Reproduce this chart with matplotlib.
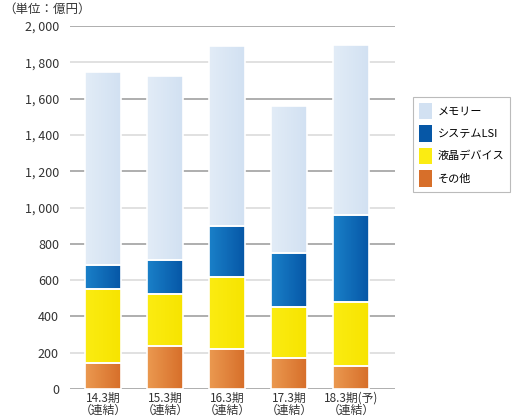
import matplotlib
matplotlib.use('Agg')
from matplotlib import pyplot as plt
from matplotlib.colors import LinearSegmentedColormap
from matplotlib.patches import Patch
import numpy as np

plt.rcParams['font.family'] = ['Noto Sans CJK JP', 'DejaVu Sans']

# data (億円)
periods = ["14.3期\n（連結）", "15.3期\n（連結）", "16.3期\n（連結）", "17.3期\n（連結）", "18.3期(予)\n（連結）"]
sonota = [143, 239, 222, 169, 125]
ekisho = [406, 284, 393, 281, 353]
lsi = [136, 188, 285, 301, 478]
memory = [1060, 1013, 990, 808, 939]

series_names = ["メモリー", "システムLSI", "液晶デバイス", "その他"]
yticks = [0, 200, 400, 600, 800, 1000, 1200, 1400, 1600, 1800, 2000]
ytick_labels = ["0", "200", "400", "600", "800", "1, 000", "1, 200", "1, 400", "1, 600", "1, 800", "2, 000"]

# gradient colours (left, right) for each series
grad = {
    "その他": ("#eb9950", "#d76f2a"),
    "液晶デバイス": ("#fbec12", "#f7e400"),
    "システムLSI": ("#1a80c9", "#0657a6"),
    "メモリー": ("#e2ecf7", "#d2e1f2"),
}

fig = plt.figure(figsize=(5.19, 4.2), dpi=100)
ax = fig.add_axes([70/519, 31/420, 325/519, 363/420])

x = np.arange(len(periods))
w = 0.58
bottom = np.zeros(len(periods))
stack = [("その他", sonota), ("液晶デバイス", ekisho), ("システムLSI", lsi), ("メモリー", memory)]
gx = np.linspace(0, 1, 64).reshape(1, -1)
for name, vals in stack:
    cmap = LinearSegmentedColormap.from_list(name, grad[name])
    bars = ax.bar(x, vals, w, bottom=bottom, color=grad[name][0], zorder=2)
    for b in bars:
        bx, by = b.get_x(), b.get_y()
        im = ax.imshow(gx, cmap=cmap, aspect='auto', zorder=3,
                       extent=[bx, bx + b.get_width(), by, by + b.get_height()])
        im.set_clip_path(b)
    ax.bar(x, vals, w, bottom=bottom, facecolor='none', edgecolor='white', linewidth=1.2, zorder=4)
    bottom = bottom + np.array(vals)

# gridlines: darker every 400
for t in yticks:
    c = '#999999' if t % 400 == 0 else '#d8d8d8'
    ax.axhline(t, color=c, linewidth=1.1, zorder=1)

ax.set_xlim(-0.532, -0.532 + 325/62)
ax.set_ylim(0, 2000)
ax.set_yticks(yticks)
ax.set_yticklabels(ytick_labels, fontsize=9, color='#333333')
ax.set_xticks(x)
ax.set_xticklabels(periods, fontsize=8.5, color='#333333', linespacing=0.95)
ax.tick_params(length=0, pad=8)
ax.tick_params(axis='x', pad=2)
for s in ax.spines.values():
    s.set_visible(False)

fig.text(3/519, 1 - 3/420, "（単位：億円）", fontsize=9, color='#333333', va='top', ha='left')

handles = [Patch(facecolor=grad[n][1] if n != "液晶デバイス" else grad[n][0], edgecolor='none') for n in series_names]
leg = fig.legend(handles, series_names, loc='upper left', bbox_to_anchor=(413/519, 1 - 97/420),
                 fontsize=8, frameon=True, fancybox=False, edgecolor='#aaaaaa',
                 handlelength=1.2, handleheight=1.9, handletextpad=0.5,
                 borderpad=0.5, labelspacing=0.55, borderaxespad=0)
leg.get_frame().set_linewidth(0.8)

plt.savefig("out.png", dpi=100)
